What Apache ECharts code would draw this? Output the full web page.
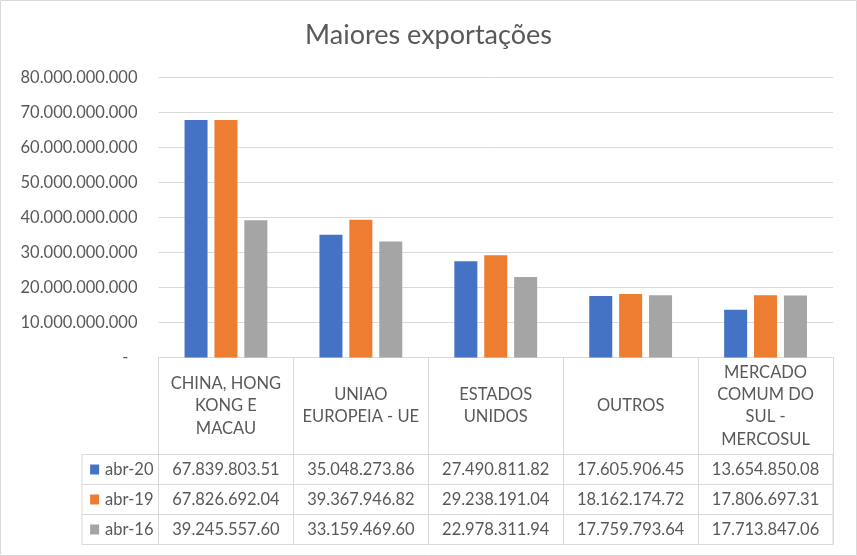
<!DOCTYPE html>
<html>
<head>
<meta charset="utf-8">
<script src="https://cdn.jsdelivr.net/npm/echarts@6/dist/echarts.min.js"></script>
<style>
  html, body { margin: 0; padding: 0; background: #fff; }
  #chart { width: 857px; height: 556px; }
</style>
</head>
<body>
<div id="chart"></div>
<script>
// data
const categories = ["CHINA, HONG KONG E MACAU", "UNIAO EUROPEIA - UE", "ESTADOS UNIDOS", "OUTROS", "MERCADO COMUM DO SUL - MERCOSUL"];
const headerLabels = ["CHINA, HONG\nKONG E\nMACAU", "UNIAO\nEUROPEIA - UE", "ESTADOS\nUNIDOS", "OUTROS", "MERCADO\nCOMUM DO\nSUL -\nMERCOSUL"];
const seriesNames = ["abr-20", "abr-19", "abr-16"];
const abr20 = [67839803510, 35048273860, 27490811820, 17605906450, 13654850080];
const abr19 = [67826692040, 39367946820, 29238191040, 18162174720, 17806697310];
const abr16 = [39245557600, 33159469600, 22978311940, 17759793640, 17713847060];
const colors = ["#4472C4", "#ED7D31", "#A5A5A5"];
const yMax = 80000000000;
const yStep = 10000000000;

const FONT = "Lato";
const TXT = "#595959";
const LINE = "#d9d9d9";

// layout
const gridLeft = 158.5, gridRight = 833, gridTop = 77.5, plotBottom = 357.5;
const headerH = 97, rowH = 30, keyLeft = 82;

const dots = (s) => s.replace(/\B(?=(\d{3})+(?!\d))/g, ".");
// table shows value/1000 with two decimals, dots everywhere
const tableText = (v) => {
  const [i, d] = (v / 1000).toFixed(2).split(".");
  return dots(i) + "." + d;
};

const rows = [abr20, abr19, abr16];

const rowAxes = rows.map((vals, r) => ({
  type: "category",
  gridIndex: 0,
  position: "bottom",
  offset: headerH + r * rowH,
  data: categories,
  axisLine: { show: true, lineStyle: { color: LINE } },
  axisTick: { show: true, interval: 0, alignWithLabel: false, length: rowH, lineStyle: { color: LINE } },
  axisLabel: {
    interval: 0, margin: rowH / 2, verticalAlign: "middle",
    color: TXT, fontFamily: FONT, fontSize: 16.5,
    formatter: (val, idx) => tableText(vals[idx])
  },
  name: "{sq|}{t|" + seriesNames[r] + "}",
  nameLocation: "start",
  nameGap: 5,
  nameTextStyle: {
    color: TXT, fontFamily: FONT, fontSize: 16.5,
    padding: [rowH, 0, 0, 0],
    rich: {
      sq: { width: 9, height: 10, backgroundColor: colors[r] },
      t: { color: TXT, fontFamily: FONT, fontSize: 16.5, padding: [0, 0, 0, 6] }
    }
  }
}));

const option = {
  animation: false,
  backgroundColor: "#fff",
  title: {
    text: "Maiores exportações",
    left: "center",
    top: 17,
    textStyle: { color: TXT, fontFamily: FONT, fontSize: 27, fontWeight: "normal" }
  },
  grid: {
    left: gridLeft, right: 857 - gridRight, top: gridTop, bottom: 556 - plotBottom,
    outerBoundsMode: "none"
  },
  xAxis: [
    {
      type: "category",
      position: "bottom",
      data: categories,
      axisLine: { show: true, lineStyle: { color: LINE } },
      axisTick: { show: true, interval: 0, alignWithLabel: false, length: headerH, lineStyle: { color: LINE } },
      axisLabel: {
        interval: 0, margin: headerH / 2, verticalAlign: "middle", lineHeight: 22.3,
        color: TXT, fontFamily: FONT, fontSize: 16.5,
        formatter: (val, idx) => headerLabels[idx]
      }
    },
    ...rowAxes
  ],
  yAxis: {
    type: "value",
    min: 0,
    max: yMax,
    interval: yStep,
    axisLine: { show: false },
    axisTick: { show: false },
    splitLine: { lineStyle: { color: LINE } },
    axisLabel: {
      margin: 21,
      color: TXT, fontFamily: FONT, fontSize: 16.5,
      formatter: (v) => (v === 0 ? "{z|-}" : dots(String(v))),
      rich: { z: { color: TXT, fontFamily: FONT, fontSize: 16.5, padding: [0, 9, 0, 0] } }
    }
  },
  series: rows.map((vals, r) => ({
    name: seriesNames[r],
    type: "bar",
    data: vals,
    barWidth: 23,
    barGap: "30%",
    itemStyle: { color: colors[r] }
  })),
  graphic: [
    {
      type: "rect",
      shape: { x: 0.5, y: 0.5, width: 856, height: 555 },
      style: { fill: "none", stroke: LINE, lineWidth: 1 },
      silent: true
    },
    {
      type: "rect",
      shape: { x: keyLeft, y: plotBottom + headerH, width: gridRight - keyLeft, height: rowH * 3 },
      style: { fill: "none", stroke: LINE, lineWidth: 1 },
      silent: true
    },
    ...[1, 2].map((k) => ({
      type: "line",
      shape: { x1: keyLeft, y1: plotBottom + headerH + k * rowH, x2: gridLeft, y2: plotBottom + headerH + k * rowH },
      style: { stroke: LINE, lineWidth: 1 },
      silent: true
    }))
  ]
};

const chart = echarts.init(document.getElementById("chart"));
chart.setOption(option);
window.addEventListener("resize", () => chart.resize());
</script>
</body>
</html>
